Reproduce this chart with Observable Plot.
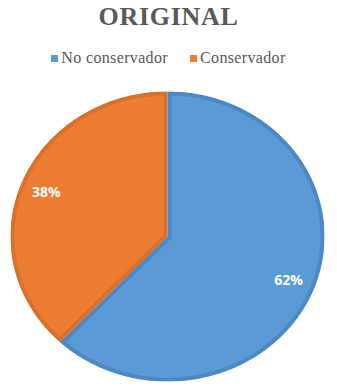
<!DOCTYPE html>
<html>
<head>
<meta charset="utf-8">
<script src="https://cdn.jsdelivr.net/npm/d3@7"></script>
<script src="https://cdn.jsdelivr.net/npm/@observablehq/plot@0.6"></script>
<style>
  html, body { margin: 0; padding: 0; background: #fff; }
  #wrap { width: 337px; height: 389px; position: relative; overflow: hidden; }
  #title { position: absolute; left: 0; width: 337px; top: 2px; text-align: center;
    font-family: "Liberation Serif", "DejaVu Serif", serif; font-weight: bold; font-size: 26px;
    color: #595959; letter-spacing: 0.7px; line-height: 30px; }
  #legend { position: absolute; left: 0; width: 337px; top: 48px; text-align: center;
    font-family: "Liberation Serif", "DejaVu Serif", serif; font-size: 16px; color: #595959; line-height: 20px; white-space: nowrap; letter-spacing: 0.35px; }
  .sw { display: inline-block; width: 7px; height: 7px; margin-right: 3px; vertical-align: 1px; }
  .item { display: inline-block; }
  .item + .item { margin-left: 22px; }
  #chart { position: absolute; left: 0; top: 80px; }
</style>
</head>
<body>
<div id="wrap">
  <div id="title">ORIGINAL</div>
  <div id="legend"></div>
  <div id="chart"></div>
</div>
<script>
const categories = ["No conservador", "Conservador"];
const values = [62, 38];
const labels = ["62%", "38%"];
const fills = ["#5B9BD5", "#ED7D31"];
const edges = ["#4C89C4", "#D8712B"];

// legend
const legend = document.getElementById("legend");
categories.forEach((c, i) => {
  const s = document.createElement("span");
  s.className = "item";
  s.innerHTML = `<span class="sw" style="background:${fills[i]}"></span>${c}`;
  legend.appendChild(s);
});

// pie geometry (unit circle, clockwise from top)
const pie = d3.pie().sort(null).value(d => d)(values);
const slices = pie.map((p, i) => {
  const pts = [{x: 0, y: 0}];
  const n = Math.max(2, Math.ceil((p.endAngle - p.startAngle) / (Math.PI / 360)));
  for (let k = 0; k <= n; k++) {
    const a = p.startAngle + (p.endAngle - p.startAngle) * k / n;
    pts.push({x: Math.sin(a), y: Math.cos(a)});
  }
  pts.push({x: 0, y: 0});
  return pts;
});
const labelPts = pie.map((p, i) => {
  const a = (p.startAngle + p.endAngle) / 2;
  return {x: 0.83 * Math.sin(a), y: 0.83 * Math.cos(a), text: labels[i]};
});

const plot = Plot.plot({
  width: 337,
  height: 309,
  marginTop: 11,
  marginBottom: 8,
  marginLeft: 10,
  marginRight: 13,
  x: {domain: [-1, 1], axis: null},
  y: {domain: [-1, 1], axis: null},
  marks: [
    ...slices.map((pts, i) => Plot.line(pts, {
      x: "x", y: "y", fill: fills[i], stroke: edges[i], strokeWidth: 8,
      strokeLinejoin: "round", className: "slice"
    })),
    Plot.text(labelPts, {x: "x", y: "y", text: "text", fill: "white",
      fontSize: 14, fontWeight: "bold", fontFamily: "'Open Sans', 'Liberation Sans', sans-serif"})
  ]
});
document.getElementById("chart").appendChild(plot);

// keep each slice's border inside the slice (like the reference)
const svg = d3.select(plot);
const defs = svg.insert("defs", ":first-child");
svg.selectAll("g.slice path").each(function(_, i) {
  const id = "clip-slice-" + i;
  defs.append("clipPath").attr("id", id)
    .append("path").attr("d", d3.select(this).attr("d"))
    .attr("transform", d3.select(this).attr("transform"));
  d3.select(this).attr("clip-path", `url(#${id})`);
});
</script>
</body>
</html>
